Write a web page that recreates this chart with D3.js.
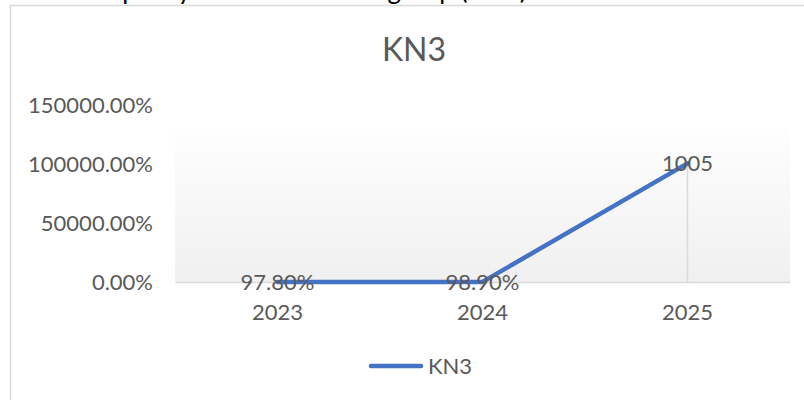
<!DOCTYPE html>
<html>
<head>
<meta charset="utf-8">
<script src="https://cdn.jsdelivr.net/npm/d3@7"></script>
<style>
  body { margin: 0; background: #ffffff; }
  text { font-family: Lato, "Open Sans", sans-serif; }
</style>
</head>
<body>
<div id="chart"></div>
<script>
// chart data
const years = ["2023", "2024", "2025"];
const kn3 = [0.978, 0.989, 1005];
const pointLabels = ["97.80%", "98.90%", "1005"];
const yTicks = [0, 500, 1000, 1500];

const width = 804, height = 400;
const margin = {top: 105, right: 14, bottom: 118, left: 175};

const svg = d3.select("#chart")
    .append("svg")
    .attr("width", width)
    .attr("height", height);

// cut-off heading of the page above the chart
svg.append("text")
    .attr("x", 92)
    .attr("y", -1)
    .attr("font-size", "26px")
    .attr("fill", "#000")
    .text("Capacity utilisation in the group (KN3)");

// chart frame
svg.append("rect")
    .attr("x", 10.5).attr("y", 5.5)
    .attr("width", 820).attr("height", 420)
    .attr("fill", "#fff")
    .attr("stroke", "#d9d9d9")
    .attr("stroke-width", 1.5);

const xScale = d3.scaleBand()
    .domain(years)
    .range([margin.left, width - margin.right]);

const yScale = d3.scaleLinear()
    .domain([0, 1500])
    .range([height - margin.bottom, margin.top]);

// plot area gradient
const grad = svg.append("defs").append("linearGradient")
    .attr("id", "plotGrad")
    .attr("x1", 0).attr("y1", 0).attr("x2", 0).attr("y2", 1);
grad.append("stop").attr("offset", "0%").attr("stop-color", "#fefefe");
grad.append("stop").attr("offset", "100%").attr("stop-color", "#f0f0f0");

svg.append("rect")
    .attr("x", margin.left)
    .attr("y", 127)
    .attr("width", width - margin.right - margin.left)
    .attr("height", yScale(0) - 127)
    .attr("fill", "url(#plotGrad)");

// title
svg.append("text")
    .attr("x", 414)
    .attr("y", 61)
    .attr("text-anchor", "middle")
    .attr("font-size", "32px")
    .attr("fill", "#595959")
    .text("KN3");

// y axis labels
const yAxis = svg.append("g")
    .attr("transform", `translate(${margin.left - 22}, 0)`)
    .call(d3.axisLeft(yScale).tickValues(yTicks).tickSize(0).tickPadding(0)
        .tickFormat(d => d3.format(".2f")(d * 100) + "%"));
yAxis.select(".domain").remove();
yAxis.selectAll("text")
    .attr("font-family", "Lato, sans-serif")
    .attr("font-size", "22px")
    .attr("fill", "#595959");

// x axis
const xAxis = svg.append("g")
    .attr("transform", `translate(0, ${yScale(0)})`)
    .call(d3.axisBottom(xScale).tickSize(0).tickPadding(22));
xAxis.select(".domain").attr("stroke", "#d9d9d9").attr("stroke-width", 1.5);
xAxis.selectAll("text")
    .attr("font-family", "Lato, sans-serif")
    .attr("font-size", "22px")
    .attr("fill", "#595959");

const cx = d => xScale(d) + xScale.bandwidth() / 2;

// drop lines
svg.selectAll(".drop")
    .data(years)
    .enter()
    .append("line")
    .attr("x1", d => cx(d)).attr("x2", d => cx(d))
    .attr("y1", (d, i) => yScale(kn3[i]))
    .attr("y2", yScale(0))
    .attr("stroke", "#d9d9d9")
    .attr("stroke-width", 1.5);

// series line
const line = d3.line()
    .x((d, i) => cx(years[i]))
    .y(d => yScale(d));

svg.append("path")
    .datum(kn3)
    .attr("d", line)
    .attr("fill", "none")
    .attr("stroke", "#4472c4")
    .attr("stroke-width", 4.5)
    .attr("stroke-linejoin", "round")
    .attr("stroke-linecap", "round");

// data labels centered on the points
svg.selectAll(".lbl")
    .data(pointLabels)
    .enter()
    .append("text")
    .attr("x", (d, i) => cx(years[i]))
    .attr("y", (d, i) => yScale(kn3[i]))
    .attr("dy", "0.36em")
    .attr("text-anchor", "middle")
    .attr("font-size", "22px")
    .attr("fill", "#595959")
    .text(d => d);

// legend
svg.append("line")
    .attr("x1", 371).attr("x2", 421)
    .attr("y1", 366).attr("y2", 366)
    .attr("stroke", "#4472c4")
    .attr("stroke-width", 4.5)
    .attr("stroke-linecap", "round");
svg.append("text")
    .attr("x", 428)
    .attr("y", 366)
    .attr("dy", "0.36em")
    .attr("font-size", "22px")
    .attr("fill", "#595959")
    .text("KN3");
</script>
</body>
</html>
